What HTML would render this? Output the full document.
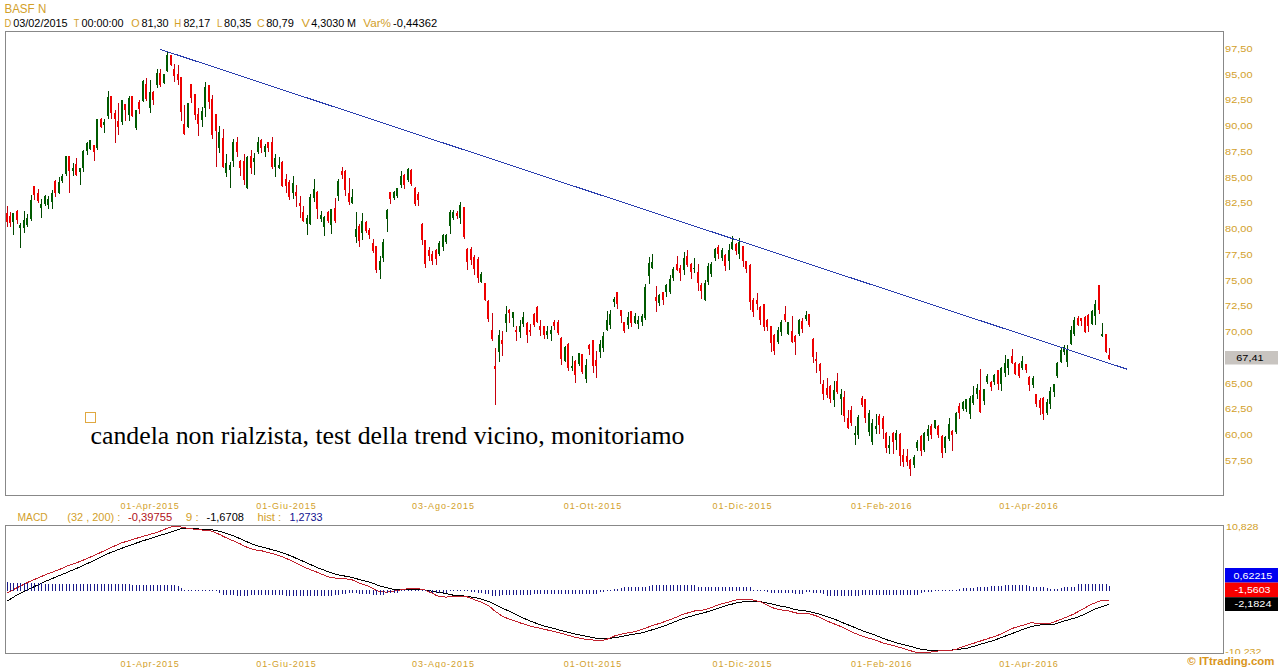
<!DOCTYPE html>
<html><head><meta charset="utf-8">
<style>
html,body{margin:0;padding:0;background:#fff;width:1278px;height:668px;overflow:hidden}
svg{display:block}
text{font-family:"Liberation Sans",Arial,sans-serif}
.hd{font-size:11px;fill:#000}
.g{fill:#d2a02a}
.ax{font-size:9.6px;fill:#d2a02a}
.dt{font-size:9px;fill:#d2a02a}
.mh{font-size:10px}
.ann{font-family:"Liberation Serif","Times New Roman",serif;font-size:25.8px;fill:#000}
</style></head>
<body>
<svg width="1278" height="668" viewBox="0 0 1278 668">
<text x="4.4" y="13" textLength="41.9" lengthAdjust="spacingAndGlyphs" class="hd g" style="font-size:12.4px">BASF N</text>
<text x="4.4" y="27" textLength="6.8" lengthAdjust="spacingAndGlyphs" class="hd g">D</text>
<text x="13.2" y="27" textLength="54.4" lengthAdjust="spacingAndGlyphs" class="hd">03/02/2015</text>
<text x="73.8" y="27" textLength="5.5" lengthAdjust="spacingAndGlyphs" class="hd g">T</text>
<text x="81.4" y="27" textLength="42.2" lengthAdjust="spacingAndGlyphs" class="hd">00:00:00</text>
<text x="131.3" y="27" textLength="8.4" lengthAdjust="spacingAndGlyphs" class="hd g">O</text>
<text x="141.4" y="27" textLength="27.3" lengthAdjust="spacingAndGlyphs" class="hd">81,30</text>
<text x="174.3" y="27" textLength="7.0" lengthAdjust="spacingAndGlyphs" class="hd g">H</text>
<text x="183.4" y="27" textLength="26.9" lengthAdjust="spacingAndGlyphs" class="hd">82,17</text>
<text x="217.0" y="27" textLength="5.4" lengthAdjust="spacingAndGlyphs" class="hd g">L</text>
<text x="224.1" y="27" textLength="27.3" lengthAdjust="spacingAndGlyphs" class="hd">80,35</text>
<text x="256.9" y="27" textLength="7.7" lengthAdjust="spacingAndGlyphs" class="hd g">C</text>
<text x="266.2" y="27" textLength="27.7" lengthAdjust="spacingAndGlyphs" class="hd">80,79</text>
<text x="301.5" y="27" textLength="8.5" lengthAdjust="spacingAndGlyphs" class="hd g">V</text>
<text x="311.2" y="27" textLength="44.9" lengthAdjust="spacingAndGlyphs" class="hd">4,3030 M</text>
<text x="363.2" y="27" textLength="27.8" lengthAdjust="spacingAndGlyphs" class="hd g">Var%</text>
<text x="393.0" y="27" textLength="44.1" lengthAdjust="spacingAndGlyphs" class="hd">-0,44362</text>
<rect x="5.5" y="31.5" width="1218" height="464" fill="none" stroke="#888" stroke-width="1"/>
<g shape-rendering="crispEdges">
<rect x="7" y="206" width="1" height="21" fill="#c8000c"/>
<rect x="6" y="213" width="2" height="9" fill="#ee0000"/>
<rect x="10" y="212" width="1" height="15" fill="#c8000c"/>
<rect x="9" y="216" width="2" height="7" fill="#ee0000"/>
<rect x="13" y="213" width="1" height="22" fill="#004800"/>
<rect x="12" y="213" width="2" height="9" fill="#005a00"/>
<rect x="17" y="210" width="1" height="14" fill="#c8000c"/>
<rect x="16" y="211" width="2" height="9" fill="#ee0000"/>
<rect x="20" y="223" width="1" height="25" fill="#004800"/>
<rect x="19" y="225" width="2" height="3" fill="#005a00"/>
<rect x="24" y="211" width="1" height="22" fill="#004800"/>
<rect x="23" y="220" width="2" height="8" fill="#005a00"/>
<rect x="27" y="214" width="1" height="13" fill="#004800"/>
<rect x="26" y="218" width="2" height="7" fill="#005a00"/>
<rect x="31" y="195" width="1" height="26" fill="#004800"/>
<rect x="30" y="200" width="2" height="19" fill="#005a00"/>
<rect x="34" y="186" width="1" height="14" fill="#c8000c"/>
<rect x="33" y="186" width="2" height="9" fill="#ee0000"/>
<rect x="38" y="189" width="1" height="14" fill="#c8000c"/>
<rect x="37" y="193" width="2" height="8" fill="#ee0000"/>
<rect x="41" y="199" width="1" height="19" fill="#004800"/>
<rect x="40" y="204" width="2" height="4" fill="#005a00"/>
<rect x="45" y="195" width="1" height="11" fill="#004800"/>
<rect x="44" y="196" width="2" height="8" fill="#005a00"/>
<rect x="48" y="196" width="1" height="13" fill="#004800"/>
<rect x="47" y="199" width="2" height="6" fill="#005a00"/>
<rect x="52" y="190" width="1" height="19" fill="#004800"/>
<rect x="51" y="193" width="2" height="9" fill="#005a00"/>
<rect x="55" y="180" width="1" height="17" fill="#c8000c"/>
<rect x="54" y="181" width="2" height="12" fill="#ee0000"/>
<rect x="59" y="177" width="1" height="17" fill="#004800"/>
<rect x="58" y="182" width="2" height="11" fill="#005a00"/>
<rect x="62" y="174" width="1" height="9" fill="#004800"/>
<rect x="61" y="176" width="2" height="5" fill="#005a00"/>
<rect x="66" y="156" width="1" height="20" fill="#004800"/>
<rect x="65" y="156" width="2" height="18" fill="#005a00"/>
<rect x="69" y="156" width="1" height="37" fill="#c8000c"/>
<rect x="68" y="156" width="2" height="15" fill="#ee0000"/>
<rect x="73" y="163" width="1" height="13" fill="#004800"/>
<rect x="72" y="168" width="2" height="3" fill="#005a00"/>
<rect x="76" y="158" width="1" height="18" fill="#c8000c"/>
<rect x="75" y="164" width="2" height="11" fill="#ee0000"/>
<rect x="80" y="168" width="1" height="17" fill="#004800"/>
<rect x="79" y="168" width="2" height="4" fill="#005a00"/>
<rect x="83" y="150" width="1" height="22" fill="#004800"/>
<rect x="82" y="151" width="2" height="17" fill="#005a00"/>
<rect x="87" y="142" width="1" height="13" fill="#004800"/>
<rect x="86" y="143" width="2" height="8" fill="#005a00"/>
<rect x="90" y="140" width="1" height="10" fill="#004800"/>
<rect x="89" y="140" width="2" height="9" fill="#005a00"/>
<rect x="94" y="145" width="1" height="16" fill="#c8000c"/>
<rect x="93" y="145" width="2" height="7" fill="#ee0000"/>
<rect x="97" y="119" width="1" height="31" fill="#004800"/>
<rect x="96" y="119" width="2" height="29" fill="#005a00"/>
<rect x="101" y="118" width="1" height="10" fill="#c8000c"/>
<rect x="100" y="119" width="2" height="8" fill="#ee0000"/>
<rect x="104" y="119" width="1" height="14" fill="#004800"/>
<rect x="103" y="122" width="2" height="3" fill="#005a00"/>
<rect x="108" y="91" width="1" height="28" fill="#004800"/>
<rect x="107" y="97" width="2" height="19" fill="#005a00"/>
<rect x="111" y="96" width="1" height="23" fill="#c8000c"/>
<rect x="110" y="96" width="2" height="17" fill="#ee0000"/>
<rect x="115" y="110" width="1" height="33" fill="#c8000c"/>
<rect x="114" y="113" width="2" height="6" fill="#ee0000"/>
<rect x="118" y="103" width="1" height="32" fill="#c8000c"/>
<rect x="117" y="121" width="2" height="6" fill="#ee0000"/>
<rect x="122" y="100" width="1" height="25" fill="#004800"/>
<rect x="121" y="100" width="2" height="22" fill="#005a00"/>
<rect x="125" y="104" width="1" height="17" fill="#c8000c"/>
<rect x="124" y="104" width="2" height="6" fill="#ee0000"/>
<rect x="129" y="96" width="1" height="25" fill="#004800"/>
<rect x="128" y="98" width="2" height="17" fill="#005a00"/>
<rect x="132" y="96" width="1" height="21" fill="#c8000c"/>
<rect x="131" y="96" width="2" height="20" fill="#ee0000"/>
<rect x="136" y="110" width="1" height="20" fill="#004800"/>
<rect x="135" y="110" width="2" height="18" fill="#005a00"/>
<rect x="139" y="100" width="1" height="14" fill="#c8000c"/>
<rect x="138" y="102" width="2" height="7" fill="#ee0000"/>
<rect x="143" y="80" width="1" height="22" fill="#004800"/>
<rect x="142" y="81" width="2" height="20" fill="#005a00"/>
<rect x="146" y="78" width="1" height="23" fill="#c8000c"/>
<rect x="145" y="84" width="2" height="15" fill="#ee0000"/>
<rect x="150" y="80" width="1" height="33" fill="#004800"/>
<rect x="149" y="92" width="2" height="16" fill="#005a00"/>
<rect x="153" y="91" width="1" height="14" fill="#c8000c"/>
<rect x="152" y="92" width="2" height="8" fill="#ee0000"/>
<rect x="157" y="69" width="1" height="19" fill="#004800"/>
<rect x="156" y="73" width="2" height="12" fill="#005a00"/>
<rect x="160" y="69" width="1" height="18" fill="#c8000c"/>
<rect x="159" y="73" width="2" height="12" fill="#ee0000"/>
<rect x="164" y="74" width="1" height="10" fill="#004800"/>
<rect x="163" y="74" width="2" height="9" fill="#005a00"/>
<rect x="167" y="52" width="1" height="20" fill="#004800"/>
<rect x="166" y="55" width="2" height="16" fill="#005a00"/>
<rect x="171" y="55" width="1" height="11" fill="#c8000c"/>
<rect x="170" y="55" width="2" height="10" fill="#ee0000"/>
<rect x="174" y="64" width="1" height="18" fill="#c8000c"/>
<rect x="173" y="69" width="2" height="7" fill="#ee0000"/>
<rect x="178" y="65" width="1" height="20" fill="#c8000c"/>
<rect x="177" y="74" width="2" height="6" fill="#ee0000"/>
<rect x="181" y="77" width="1" height="44" fill="#c8000c"/>
<rect x="180" y="77" width="2" height="35" fill="#ee0000"/>
<rect x="184" y="105" width="1" height="30" fill="#c8000c"/>
<rect x="183" y="124" width="2" height="10" fill="#ee0000"/>
<rect x="188" y="103" width="1" height="25" fill="#004800"/>
<rect x="187" y="103" width="2" height="24" fill="#005a00"/>
<rect x="191" y="84" width="1" height="19" fill="#c8000c"/>
<rect x="190" y="84" width="2" height="14" fill="#ee0000"/>
<rect x="195" y="94" width="1" height="26" fill="#c8000c"/>
<rect x="194" y="94" width="2" height="21" fill="#ee0000"/>
<rect x="198" y="108" width="1" height="28" fill="#c8000c"/>
<rect x="197" y="114" width="2" height="10" fill="#ee0000"/>
<rect x="202" y="107" width="1" height="20" fill="#004800"/>
<rect x="201" y="111" width="2" height="9" fill="#005a00"/>
<rect x="205" y="82" width="1" height="35" fill="#004800"/>
<rect x="204" y="87" width="2" height="21" fill="#005a00"/>
<rect x="209" y="85" width="1" height="24" fill="#c8000c"/>
<rect x="208" y="85" width="2" height="17" fill="#ee0000"/>
<rect x="212" y="95" width="1" height="44" fill="#c8000c"/>
<rect x="211" y="99" width="2" height="36" fill="#ee0000"/>
<rect x="216" y="114" width="1" height="53" fill="#c8000c"/>
<rect x="215" y="114" width="2" height="17" fill="#ee0000"/>
<rect x="219" y="126" width="1" height="27" fill="#004800"/>
<rect x="218" y="132" width="2" height="16" fill="#005a00"/>
<rect x="223" y="129" width="1" height="39" fill="#c8000c"/>
<rect x="222" y="138" width="2" height="29" fill="#ee0000"/>
<rect x="226" y="154" width="1" height="23" fill="#004800"/>
<rect x="225" y="163" width="2" height="10" fill="#005a00"/>
<rect x="230" y="162" width="1" height="26" fill="#004800"/>
<rect x="229" y="165" width="2" height="5" fill="#005a00"/>
<rect x="233" y="139" width="1" height="28" fill="#004800"/>
<rect x="232" y="142" width="2" height="19" fill="#005a00"/>
<rect x="237" y="137" width="1" height="20" fill="#c8000c"/>
<rect x="236" y="142" width="2" height="10" fill="#ee0000"/>
<rect x="240" y="160" width="1" height="16" fill="#c8000c"/>
<rect x="239" y="161" width="2" height="7" fill="#ee0000"/>
<rect x="244" y="154" width="1" height="31" fill="#c8000c"/>
<rect x="243" y="161" width="2" height="19" fill="#ee0000"/>
<rect x="247" y="156" width="1" height="33" fill="#004800"/>
<rect x="246" y="157" width="2" height="31" fill="#005a00"/>
<rect x="251" y="150" width="1" height="24" fill="#c8000c"/>
<rect x="250" y="156" width="2" height="12" fill="#ee0000"/>
<rect x="254" y="153" width="1" height="22" fill="#004800"/>
<rect x="253" y="158" width="2" height="4" fill="#005a00"/>
<rect x="258" y="137" width="1" height="17" fill="#004800"/>
<rect x="257" y="142" width="2" height="10" fill="#005a00"/>
<rect x="261" y="139" width="1" height="14" fill="#c8000c"/>
<rect x="260" y="140" width="2" height="8" fill="#ee0000"/>
<rect x="265" y="144" width="1" height="13" fill="#004800"/>
<rect x="264" y="146" width="2" height="6" fill="#005a00"/>
<rect x="268" y="142" width="1" height="10" fill="#c8000c"/>
<rect x="267" y="142" width="2" height="6" fill="#ee0000"/>
<rect x="272" y="137" width="1" height="32" fill="#c8000c"/>
<rect x="271" y="142" width="2" height="25" fill="#ee0000"/>
<rect x="275" y="154" width="1" height="23" fill="#004800"/>
<rect x="274" y="158" width="2" height="9" fill="#005a00"/>
<rect x="279" y="157" width="1" height="12" fill="#004800"/>
<rect x="278" y="165" width="2" height="3" fill="#005a00"/>
<rect x="282" y="161" width="1" height="26" fill="#c8000c"/>
<rect x="281" y="162" width="2" height="24" fill="#ee0000"/>
<rect x="286" y="174" width="1" height="19" fill="#c8000c"/>
<rect x="285" y="179" width="2" height="7" fill="#ee0000"/>
<rect x="289" y="180" width="1" height="20" fill="#c8000c"/>
<rect x="288" y="182" width="2" height="15" fill="#ee0000"/>
<rect x="293" y="176" width="1" height="23" fill="#004800"/>
<rect x="292" y="183" width="2" height="10" fill="#005a00"/>
<rect x="296" y="185" width="1" height="22" fill="#c8000c"/>
<rect x="295" y="192" width="2" height="4" fill="#ee0000"/>
<rect x="300" y="196" width="1" height="22" fill="#c8000c"/>
<rect x="299" y="203" width="2" height="3" fill="#ee0000"/>
<rect x="303" y="206" width="1" height="16" fill="#c8000c"/>
<rect x="302" y="212" width="2" height="9" fill="#ee0000"/>
<rect x="307" y="215" width="1" height="20" fill="#004800"/>
<rect x="306" y="218" width="2" height="6" fill="#005a00"/>
<rect x="310" y="194" width="1" height="31" fill="#004800"/>
<rect x="309" y="197" width="2" height="27" fill="#005a00"/>
<rect x="314" y="179" width="1" height="23" fill="#004800"/>
<rect x="313" y="189" width="2" height="9" fill="#005a00"/>
<rect x="317" y="191" width="1" height="28" fill="#c8000c"/>
<rect x="316" y="192" width="2" height="17" fill="#ee0000"/>
<rect x="321" y="211" width="1" height="11" fill="#004800"/>
<rect x="320" y="215" width="2" height="4" fill="#005a00"/>
<rect x="324" y="216" width="1" height="20" fill="#004800"/>
<rect x="323" y="217" width="2" height="10" fill="#005a00"/>
<rect x="328" y="211" width="1" height="12" fill="#c8000c"/>
<rect x="327" y="212" width="2" height="9" fill="#ee0000"/>
<rect x="331" y="209" width="1" height="25" fill="#004800"/>
<rect x="330" y="209" width="2" height="16" fill="#005a00"/>
<rect x="335" y="198" width="1" height="25" fill="#c8000c"/>
<rect x="334" y="208" width="2" height="13" fill="#ee0000"/>
<rect x="338" y="179" width="1" height="22" fill="#004800"/>
<rect x="337" y="181" width="2" height="15" fill="#005a00"/>
<rect x="342" y="167" width="1" height="12" fill="#c8000c"/>
<rect x="341" y="171" width="2" height="4" fill="#ee0000"/>
<rect x="345" y="170" width="1" height="26" fill="#c8000c"/>
<rect x="344" y="171" width="2" height="19" fill="#ee0000"/>
<rect x="349" y="178" width="1" height="27" fill="#c8000c"/>
<rect x="348" y="193" width="2" height="9" fill="#ee0000"/>
<rect x="352" y="189" width="1" height="15" fill="#004800"/>
<rect x="351" y="197" width="2" height="6" fill="#005a00"/>
<rect x="356" y="212" width="1" height="31" fill="#004800"/>
<rect x="355" y="229" width="2" height="8" fill="#005a00"/>
<rect x="359" y="224" width="1" height="23" fill="#c8000c"/>
<rect x="358" y="226" width="2" height="15" fill="#ee0000"/>
<rect x="362" y="213" width="1" height="27" fill="#004800"/>
<rect x="361" y="221" width="2" height="12" fill="#005a00"/>
<rect x="366" y="221" width="1" height="12" fill="#c8000c"/>
<rect x="365" y="222" width="2" height="9" fill="#ee0000"/>
<rect x="369" y="228" width="1" height="11" fill="#c8000c"/>
<rect x="368" y="230" width="2" height="5" fill="#ee0000"/>
<rect x="373" y="239" width="1" height="14" fill="#c8000c"/>
<rect x="372" y="243" width="2" height="8" fill="#ee0000"/>
<rect x="376" y="246" width="1" height="27" fill="#c8000c"/>
<rect x="375" y="246" width="2" height="24" fill="#ee0000"/>
<rect x="380" y="256" width="1" height="23" fill="#004800"/>
<rect x="379" y="261" width="2" height="9" fill="#005a00"/>
<rect x="383" y="239" width="1" height="23" fill="#004800"/>
<rect x="382" y="242" width="2" height="16" fill="#005a00"/>
<rect x="387" y="209" width="1" height="23" fill="#004800"/>
<rect x="386" y="210" width="2" height="9" fill="#005a00"/>
<rect x="390" y="192" width="1" height="12" fill="#c8000c"/>
<rect x="389" y="192" width="2" height="7" fill="#ee0000"/>
<rect x="394" y="191" width="1" height="9" fill="#004800"/>
<rect x="393" y="192" width="2" height="6" fill="#005a00"/>
<rect x="397" y="188" width="1" height="10" fill="#004800"/>
<rect x="396" y="188" width="2" height="8" fill="#005a00"/>
<rect x="401" y="171" width="1" height="17" fill="#004800"/>
<rect x="400" y="176" width="2" height="9" fill="#005a00"/>
<rect x="404" y="174" width="1" height="15" fill="#c8000c"/>
<rect x="403" y="175" width="2" height="10" fill="#ee0000"/>
<rect x="408" y="168" width="1" height="14" fill="#004800"/>
<rect x="407" y="169" width="2" height="11" fill="#005a00"/>
<rect x="411" y="169" width="1" height="17" fill="#c8000c"/>
<rect x="410" y="170" width="2" height="14" fill="#ee0000"/>
<rect x="415" y="187" width="1" height="19" fill="#c8000c"/>
<rect x="414" y="188" width="2" height="16" fill="#ee0000"/>
<rect x="418" y="192" width="1" height="14" fill="#c8000c"/>
<rect x="417" y="194" width="2" height="6" fill="#ee0000"/>
<rect x="422" y="223" width="1" height="22" fill="#c8000c"/>
<rect x="421" y="224" width="2" height="16" fill="#ee0000"/>
<rect x="425" y="240" width="1" height="28" fill="#c8000c"/>
<rect x="424" y="240" width="2" height="24" fill="#ee0000"/>
<rect x="429" y="247" width="1" height="14" fill="#c8000c"/>
<rect x="428" y="250" width="2" height="6" fill="#ee0000"/>
<rect x="432" y="251" width="1" height="14" fill="#c8000c"/>
<rect x="431" y="254" width="2" height="7" fill="#ee0000"/>
<rect x="436" y="249" width="1" height="16" fill="#c8000c"/>
<rect x="435" y="250" width="2" height="9" fill="#ee0000"/>
<rect x="439" y="241" width="1" height="15" fill="#004800"/>
<rect x="438" y="243" width="2" height="11" fill="#005a00"/>
<rect x="443" y="234" width="1" height="17" fill="#004800"/>
<rect x="442" y="235" width="2" height="12" fill="#005a00"/>
<rect x="446" y="234" width="1" height="10" fill="#004800"/>
<rect x="445" y="235" width="2" height="7" fill="#005a00"/>
<rect x="450" y="210" width="1" height="24" fill="#004800"/>
<rect x="449" y="212" width="2" height="14" fill="#005a00"/>
<rect x="453" y="210" width="1" height="10" fill="#004800"/>
<rect x="452" y="212" width="2" height="6" fill="#005a00"/>
<rect x="457" y="211" width="1" height="8" fill="#c8000c"/>
<rect x="456" y="213" width="2" height="3" fill="#ee0000"/>
<rect x="460" y="202" width="1" height="22" fill="#004800"/>
<rect x="459" y="205" width="2" height="13" fill="#005a00"/>
<rect x="464" y="207" width="1" height="32" fill="#c8000c"/>
<rect x="463" y="207" width="2" height="30" fill="#ee0000"/>
<rect x="467" y="248" width="1" height="22" fill="#c8000c"/>
<rect x="466" y="249" width="2" height="13" fill="#ee0000"/>
<rect x="471" y="247" width="1" height="18" fill="#c8000c"/>
<rect x="470" y="249" width="2" height="11" fill="#ee0000"/>
<rect x="474" y="255" width="1" height="20" fill="#c8000c"/>
<rect x="473" y="257" width="2" height="12" fill="#ee0000"/>
<rect x="478" y="257" width="1" height="26" fill="#c8000c"/>
<rect x="477" y="259" width="2" height="19" fill="#ee0000"/>
<rect x="481" y="272" width="1" height="11" fill="#004800"/>
<rect x="480" y="274" width="2" height="8" fill="#005a00"/>
<rect x="485" y="283" width="1" height="18" fill="#c8000c"/>
<rect x="484" y="283" width="2" height="17" fill="#ee0000"/>
<rect x="488" y="300" width="1" height="22" fill="#c8000c"/>
<rect x="487" y="301" width="2" height="18" fill="#ee0000"/>
<rect x="492" y="313" width="1" height="28" fill="#c8000c"/>
<rect x="491" y="330" width="2" height="9" fill="#ee0000"/>
<rect x="495" y="348" width="1" height="57" fill="#c8000c"/>
<rect x="494" y="366" width="2" height="3" fill="#ee0000"/>
<rect x="499" y="330" width="1" height="32" fill="#004800"/>
<rect x="498" y="335" width="2" height="17" fill="#005a00"/>
<rect x="502" y="331" width="1" height="25" fill="#c8000c"/>
<rect x="501" y="340" width="2" height="4" fill="#ee0000"/>
<rect x="506" y="306" width="1" height="26" fill="#004800"/>
<rect x="505" y="314" width="2" height="9" fill="#005a00"/>
<rect x="509" y="309" width="1" height="14" fill="#c8000c"/>
<rect x="508" y="310" width="2" height="3" fill="#ee0000"/>
<rect x="513" y="312" width="1" height="15" fill="#004800"/>
<rect x="512" y="312" width="2" height="6" fill="#005a00"/>
<rect x="516" y="326" width="1" height="15" fill="#c8000c"/>
<rect x="515" y="330" width="2" height="2" fill="#ee0000"/>
<rect x="520" y="320" width="1" height="18" fill="#004800"/>
<rect x="519" y="326" width="2" height="6" fill="#005a00"/>
<rect x="523" y="312" width="1" height="15" fill="#004800"/>
<rect x="522" y="317" width="2" height="7" fill="#005a00"/>
<rect x="527" y="322" width="1" height="21" fill="#c8000c"/>
<rect x="526" y="323" width="2" height="12" fill="#ee0000"/>
<rect x="530" y="324" width="1" height="12" fill="#c8000c"/>
<rect x="529" y="330" width="2" height="2" fill="#ee0000"/>
<rect x="534" y="313" width="1" height="14" fill="#c8000c"/>
<rect x="533" y="314" width="2" height="11" fill="#ee0000"/>
<rect x="537" y="306" width="1" height="17" fill="#c8000c"/>
<rect x="536" y="307" width="2" height="15" fill="#ee0000"/>
<rect x="540" y="320" width="1" height="16" fill="#c8000c"/>
<rect x="539" y="326" width="2" height="4" fill="#ee0000"/>
<rect x="544" y="326" width="1" height="13" fill="#c8000c"/>
<rect x="543" y="326" width="2" height="9" fill="#ee0000"/>
<rect x="547" y="326" width="1" height="13" fill="#004800"/>
<rect x="546" y="331" width="2" height="4" fill="#005a00"/>
<rect x="551" y="326" width="1" height="15" fill="#004800"/>
<rect x="550" y="330" width="2" height="4" fill="#005a00"/>
<rect x="554" y="320" width="1" height="10" fill="#c8000c"/>
<rect x="553" y="322" width="2" height="4" fill="#ee0000"/>
<rect x="558" y="320" width="1" height="15" fill="#c8000c"/>
<rect x="557" y="322" width="2" height="11" fill="#ee0000"/>
<rect x="561" y="337" width="1" height="28" fill="#c8000c"/>
<rect x="560" y="338" width="2" height="21" fill="#ee0000"/>
<rect x="565" y="346" width="1" height="16" fill="#004800"/>
<rect x="564" y="347" width="2" height="14" fill="#005a00"/>
<rect x="568" y="343" width="1" height="28" fill="#c8000c"/>
<rect x="567" y="344" width="2" height="24" fill="#ee0000"/>
<rect x="572" y="356" width="1" height="15" fill="#004800"/>
<rect x="571" y="366" width="2" height="2" fill="#005a00"/>
<rect x="575" y="360" width="1" height="23" fill="#c8000c"/>
<rect x="574" y="361" width="2" height="14" fill="#ee0000"/>
<rect x="579" y="353" width="1" height="13" fill="#004800"/>
<rect x="578" y="353" width="2" height="11" fill="#005a00"/>
<rect x="582" y="354" width="1" height="20" fill="#c8000c"/>
<rect x="581" y="354" width="2" height="18" fill="#ee0000"/>
<rect x="586" y="359" width="1" height="24" fill="#004800"/>
<rect x="585" y="365" width="2" height="14" fill="#005a00"/>
<rect x="589" y="344" width="1" height="11" fill="#c8000c"/>
<rect x="588" y="345" width="2" height="4" fill="#ee0000"/>
<rect x="593" y="340" width="1" height="33" fill="#c8000c"/>
<rect x="592" y="340" width="2" height="26" fill="#ee0000"/>
<rect x="596" y="351" width="1" height="27" fill="#c8000c"/>
<rect x="595" y="360" width="2" height="6" fill="#ee0000"/>
<rect x="600" y="340" width="1" height="18" fill="#004800"/>
<rect x="599" y="344" width="2" height="8" fill="#005a00"/>
<rect x="603" y="332" width="1" height="20" fill="#004800"/>
<rect x="602" y="336" width="2" height="12" fill="#005a00"/>
<rect x="607" y="311" width="1" height="20" fill="#004800"/>
<rect x="606" y="320" width="2" height="10" fill="#005a00"/>
<rect x="610" y="310" width="1" height="19" fill="#004800"/>
<rect x="609" y="314" width="2" height="11" fill="#005a00"/>
<rect x="614" y="297" width="1" height="10" fill="#004800"/>
<rect x="613" y="299" width="2" height="3" fill="#005a00"/>
<rect x="617" y="292" width="1" height="17" fill="#c8000c"/>
<rect x="616" y="292" width="2" height="12" fill="#ee0000"/>
<rect x="621" y="310" width="1" height="13" fill="#c8000c"/>
<rect x="620" y="310" width="2" height="6" fill="#ee0000"/>
<rect x="624" y="322" width="1" height="11" fill="#c8000c"/>
<rect x="623" y="322" width="2" height="9" fill="#ee0000"/>
<rect x="628" y="312" width="1" height="17" fill="#004800"/>
<rect x="627" y="317" width="2" height="8" fill="#005a00"/>
<rect x="631" y="311" width="1" height="16" fill="#c8000c"/>
<rect x="630" y="311" width="2" height="12" fill="#ee0000"/>
<rect x="635" y="313" width="1" height="11" fill="#004800"/>
<rect x="634" y="316" width="2" height="7" fill="#005a00"/>
<rect x="638" y="316" width="1" height="13" fill="#004800"/>
<rect x="637" y="320" width="2" height="4" fill="#005a00"/>
<rect x="642" y="314" width="1" height="12" fill="#004800"/>
<rect x="641" y="316" width="2" height="6" fill="#005a00"/>
<rect x="645" y="284" width="1" height="36" fill="#004800"/>
<rect x="644" y="287" width="2" height="31" fill="#005a00"/>
<rect x="649" y="257" width="1" height="27" fill="#004800"/>
<rect x="648" y="263" width="2" height="13" fill="#005a00"/>
<rect x="652" y="254" width="1" height="15" fill="#004800"/>
<rect x="651" y="262" width="2" height="6" fill="#005a00"/>
<rect x="656" y="286" width="1" height="26" fill="#c8000c"/>
<rect x="655" y="297" width="2" height="4" fill="#ee0000"/>
<rect x="659" y="294" width="1" height="12" fill="#004800"/>
<rect x="658" y="295" width="2" height="8" fill="#005a00"/>
<rect x="663" y="292" width="1" height="13" fill="#c8000c"/>
<rect x="662" y="292" width="2" height="8" fill="#ee0000"/>
<rect x="666" y="284" width="1" height="13" fill="#004800"/>
<rect x="665" y="285" width="2" height="7" fill="#005a00"/>
<rect x="670" y="275" width="1" height="19" fill="#004800"/>
<rect x="669" y="279" width="2" height="13" fill="#005a00"/>
<rect x="673" y="267" width="1" height="14" fill="#004800"/>
<rect x="672" y="269" width="2" height="9" fill="#005a00"/>
<rect x="677" y="256" width="1" height="15" fill="#c8000c"/>
<rect x="676" y="264" width="2" height="6" fill="#ee0000"/>
<rect x="680" y="265" width="1" height="16" fill="#c8000c"/>
<rect x="679" y="268" width="2" height="5" fill="#ee0000"/>
<rect x="684" y="252" width="1" height="23" fill="#004800"/>
<rect x="683" y="258" width="2" height="12" fill="#005a00"/>
<rect x="687" y="250" width="1" height="17" fill="#c8000c"/>
<rect x="686" y="256" width="2" height="9" fill="#ee0000"/>
<rect x="691" y="263" width="1" height="16" fill="#c8000c"/>
<rect x="690" y="264" width="2" height="8" fill="#ee0000"/>
<rect x="694" y="258" width="1" height="15" fill="#004800"/>
<rect x="693" y="268" width="2" height="1" fill="#005a00"/>
<rect x="698" y="264" width="1" height="27" fill="#c8000c"/>
<rect x="697" y="272" width="2" height="11" fill="#ee0000"/>
<rect x="701" y="283" width="1" height="16" fill="#c8000c"/>
<rect x="700" y="285" width="2" height="6" fill="#ee0000"/>
<rect x="705" y="280" width="1" height="21" fill="#004800"/>
<rect x="704" y="283" width="2" height="17" fill="#005a00"/>
<rect x="708" y="263" width="1" height="22" fill="#004800"/>
<rect x="707" y="266" width="2" height="16" fill="#005a00"/>
<rect x="711" y="262" width="1" height="15" fill="#004800"/>
<rect x="710" y="264" width="2" height="10" fill="#005a00"/>
<rect x="715" y="248" width="1" height="13" fill="#004800"/>
<rect x="714" y="249" width="2" height="9" fill="#005a00"/>
<rect x="718" y="245" width="1" height="14" fill="#c8000c"/>
<rect x="717" y="247" width="2" height="7" fill="#ee0000"/>
<rect x="722" y="248" width="1" height="13" fill="#004800"/>
<rect x="721" y="250" width="2" height="8" fill="#005a00"/>
<rect x="725" y="254" width="1" height="17" fill="#c8000c"/>
<rect x="724" y="255" width="2" height="11" fill="#ee0000"/>
<rect x="729" y="244" width="1" height="26" fill="#004800"/>
<rect x="728" y="250" width="2" height="11" fill="#005a00"/>
<rect x="732" y="236" width="1" height="14" fill="#004800"/>
<rect x="731" y="242" width="2" height="7" fill="#005a00"/>
<rect x="736" y="243" width="1" height="12" fill="#c8000c"/>
<rect x="735" y="244" width="2" height="7" fill="#ee0000"/>
<rect x="739" y="238" width="1" height="21" fill="#004800"/>
<rect x="738" y="242" width="2" height="12" fill="#005a00"/>
<rect x="743" y="246" width="1" height="21" fill="#c8000c"/>
<rect x="742" y="246" width="2" height="15" fill="#ee0000"/>
<rect x="746" y="261" width="1" height="12" fill="#c8000c"/>
<rect x="745" y="261" width="2" height="8" fill="#ee0000"/>
<rect x="750" y="264" width="1" height="46" fill="#c8000c"/>
<rect x="749" y="265" width="2" height="37" fill="#ee0000"/>
<rect x="753" y="298" width="1" height="19" fill="#c8000c"/>
<rect x="752" y="300" width="2" height="12" fill="#ee0000"/>
<rect x="757" y="293" width="1" height="17" fill="#c8000c"/>
<rect x="756" y="300" width="2" height="4" fill="#ee0000"/>
<rect x="760" y="306" width="1" height="19" fill="#c8000c"/>
<rect x="759" y="307" width="2" height="13" fill="#ee0000"/>
<rect x="764" y="304" width="1" height="27" fill="#c8000c"/>
<rect x="763" y="304" width="2" height="23" fill="#ee0000"/>
<rect x="767" y="319" width="1" height="12" fill="#c8000c"/>
<rect x="766" y="320" width="2" height="7" fill="#ee0000"/>
<rect x="771" y="326" width="1" height="26" fill="#c8000c"/>
<rect x="770" y="326" width="2" height="17" fill="#ee0000"/>
<rect x="774" y="334" width="1" height="21" fill="#c8000c"/>
<rect x="773" y="335" width="2" height="16" fill="#ee0000"/>
<rect x="778" y="327" width="1" height="17" fill="#004800"/>
<rect x="777" y="330" width="2" height="12" fill="#005a00"/>
<rect x="781" y="320" width="1" height="16" fill="#004800"/>
<rect x="780" y="322" width="2" height="10" fill="#005a00"/>
<rect x="785" y="306" width="1" height="16" fill="#c8000c"/>
<rect x="784" y="314" width="2" height="6" fill="#ee0000"/>
<rect x="788" y="322" width="1" height="13" fill="#004800"/>
<rect x="787" y="322" width="2" height="12" fill="#005a00"/>
<rect x="792" y="316" width="1" height="27" fill="#c8000c"/>
<rect x="791" y="331" width="2" height="11" fill="#ee0000"/>
<rect x="795" y="335" width="1" height="20" fill="#c8000c"/>
<rect x="794" y="336" width="2" height="6" fill="#ee0000"/>
<rect x="799" y="319" width="1" height="17" fill="#004800"/>
<rect x="798" y="320" width="2" height="14" fill="#005a00"/>
<rect x="802" y="318" width="1" height="15" fill="#c8000c"/>
<rect x="801" y="321" width="2" height="8" fill="#ee0000"/>
<rect x="806" y="311" width="1" height="10" fill="#004800"/>
<rect x="805" y="315" width="2" height="4" fill="#005a00"/>
<rect x="809" y="314" width="1" height="13" fill="#c8000c"/>
<rect x="808" y="314" width="2" height="11" fill="#ee0000"/>
<rect x="813" y="338" width="1" height="25" fill="#c8000c"/>
<rect x="812" y="339" width="2" height="18" fill="#ee0000"/>
<rect x="816" y="352" width="1" height="21" fill="#c8000c"/>
<rect x="815" y="359" width="2" height="2" fill="#ee0000"/>
<rect x="820" y="363" width="1" height="21" fill="#c8000c"/>
<rect x="819" y="364" width="2" height="7" fill="#ee0000"/>
<rect x="823" y="380" width="1" height="20" fill="#c8000c"/>
<rect x="822" y="384" width="2" height="10" fill="#ee0000"/>
<rect x="827" y="378" width="1" height="20" fill="#c8000c"/>
<rect x="826" y="388" width="2" height="7" fill="#ee0000"/>
<rect x="830" y="385" width="1" height="18" fill="#c8000c"/>
<rect x="829" y="386" width="2" height="13" fill="#ee0000"/>
<rect x="834" y="381" width="1" height="26" fill="#004800"/>
<rect x="833" y="390" width="2" height="10" fill="#005a00"/>
<rect x="837" y="373" width="1" height="21" fill="#c8000c"/>
<rect x="836" y="381" width="2" height="11" fill="#ee0000"/>
<rect x="841" y="389" width="1" height="26" fill="#004800"/>
<rect x="840" y="394" width="2" height="5" fill="#005a00"/>
<rect x="844" y="391" width="1" height="31" fill="#c8000c"/>
<rect x="843" y="397" width="2" height="19" fill="#ee0000"/>
<rect x="848" y="410" width="1" height="19" fill="#c8000c"/>
<rect x="847" y="418" width="2" height="10" fill="#ee0000"/>
<rect x="851" y="406" width="1" height="20" fill="#c8000c"/>
<rect x="850" y="410" width="2" height="13" fill="#ee0000"/>
<rect x="855" y="426" width="1" height="19" fill="#004800"/>
<rect x="854" y="433" width="2" height="2" fill="#005a00"/>
<rect x="858" y="415" width="1" height="24" fill="#004800"/>
<rect x="857" y="417" width="2" height="18" fill="#005a00"/>
<rect x="862" y="396" width="1" height="11" fill="#c8000c"/>
<rect x="861" y="398" width="2" height="7" fill="#ee0000"/>
<rect x="865" y="399" width="1" height="24" fill="#c8000c"/>
<rect x="864" y="399" width="2" height="19" fill="#ee0000"/>
<rect x="869" y="410" width="1" height="26" fill="#004800"/>
<rect x="868" y="413" width="2" height="19" fill="#005a00"/>
<rect x="872" y="419" width="1" height="26" fill="#004800"/>
<rect x="871" y="423" width="2" height="19" fill="#005a00"/>
<rect x="876" y="414" width="1" height="20" fill="#004800"/>
<rect x="875" y="426" width="2" height="3" fill="#005a00"/>
<rect x="879" y="414" width="1" height="20" fill="#c8000c"/>
<rect x="878" y="416" width="2" height="9" fill="#ee0000"/>
<rect x="883" y="416" width="1" height="23" fill="#c8000c"/>
<rect x="882" y="418" width="2" height="11" fill="#ee0000"/>
<rect x="886" y="432" width="1" height="21" fill="#c8000c"/>
<rect x="885" y="433" width="2" height="15" fill="#ee0000"/>
<rect x="889" y="436" width="1" height="18" fill="#004800"/>
<rect x="888" y="445" width="2" height="3" fill="#005a00"/>
<rect x="893" y="432" width="1" height="22" fill="#c8000c"/>
<rect x="892" y="433" width="2" height="9" fill="#ee0000"/>
<rect x="896" y="430" width="1" height="20" fill="#004800"/>
<rect x="895" y="433" width="2" height="7" fill="#005a00"/>
<rect x="900" y="433" width="1" height="33" fill="#c8000c"/>
<rect x="899" y="434" width="2" height="22" fill="#ee0000"/>
<rect x="903" y="449" width="1" height="18" fill="#c8000c"/>
<rect x="902" y="455" width="2" height="7" fill="#ee0000"/>
<rect x="907" y="449" width="1" height="17" fill="#c8000c"/>
<rect x="906" y="456" width="2" height="6" fill="#ee0000"/>
<rect x="910" y="459" width="1" height="17" fill="#c8000c"/>
<rect x="909" y="460" width="2" height="9" fill="#ee0000"/>
<rect x="914" y="455" width="1" height="13" fill="#004800"/>
<rect x="913" y="457" width="2" height="8" fill="#005a00"/>
<rect x="917" y="440" width="1" height="11" fill="#004800"/>
<rect x="916" y="442" width="2" height="6" fill="#005a00"/>
<rect x="921" y="435" width="1" height="21" fill="#c8000c"/>
<rect x="920" y="436" width="2" height="15" fill="#ee0000"/>
<rect x="924" y="432" width="1" height="20" fill="#004800"/>
<rect x="923" y="433" width="2" height="17" fill="#005a00"/>
<rect x="928" y="425" width="1" height="16" fill="#004800"/>
<rect x="927" y="429" width="2" height="7" fill="#005a00"/>
<rect x="931" y="424" width="1" height="15" fill="#c8000c"/>
<rect x="930" y="426" width="2" height="9" fill="#ee0000"/>
<rect x="935" y="420" width="1" height="9" fill="#004800"/>
<rect x="934" y="420" width="2" height="8" fill="#005a00"/>
<rect x="938" y="425" width="1" height="13" fill="#c8000c"/>
<rect x="937" y="426" width="2" height="9" fill="#ee0000"/>
<rect x="942" y="435" width="1" height="23" fill="#c8000c"/>
<rect x="941" y="436" width="2" height="17" fill="#ee0000"/>
<rect x="945" y="436" width="1" height="17" fill="#004800"/>
<rect x="944" y="437" width="2" height="11" fill="#005a00"/>
<rect x="949" y="418" width="1" height="23" fill="#004800"/>
<rect x="948" y="424" width="2" height="15" fill="#005a00"/>
<rect x="952" y="430" width="1" height="21" fill="#c8000c"/>
<rect x="951" y="431" width="2" height="4" fill="#ee0000"/>
<rect x="956" y="412" width="1" height="22" fill="#004800"/>
<rect x="955" y="413" width="2" height="19" fill="#005a00"/>
<rect x="959" y="403" width="1" height="16" fill="#c8000c"/>
<rect x="958" y="406" width="2" height="7" fill="#ee0000"/>
<rect x="963" y="401" width="1" height="10" fill="#004800"/>
<rect x="962" y="402" width="2" height="7" fill="#005a00"/>
<rect x="966" y="399" width="1" height="13" fill="#004800"/>
<rect x="965" y="399" width="2" height="10" fill="#005a00"/>
<rect x="970" y="396" width="1" height="23" fill="#004800"/>
<rect x="969" y="398" width="2" height="16" fill="#005a00"/>
<rect x="973" y="386" width="1" height="19" fill="#004800"/>
<rect x="972" y="395" width="2" height="8" fill="#005a00"/>
<rect x="977" y="384" width="1" height="15" fill="#004800"/>
<rect x="976" y="388" width="2" height="6" fill="#005a00"/>
<rect x="980" y="369" width="1" height="44" fill="#c8000c"/>
<rect x="979" y="390" width="2" height="22" fill="#ee0000"/>
<rect x="984" y="389" width="1" height="16" fill="#004800"/>
<rect x="983" y="389" width="2" height="12" fill="#005a00"/>
<rect x="987" y="374" width="1" height="10" fill="#004800"/>
<rect x="986" y="376" width="2" height="6" fill="#005a00"/>
<rect x="991" y="381" width="1" height="10" fill="#c8000c"/>
<rect x="990" y="382" width="2" height="5" fill="#ee0000"/>
<rect x="994" y="374" width="1" height="11" fill="#004800"/>
<rect x="993" y="375" width="2" height="7" fill="#005a00"/>
<rect x="998" y="370" width="1" height="20" fill="#c8000c"/>
<rect x="997" y="370" width="2" height="14" fill="#ee0000"/>
<rect x="1001" y="367" width="1" height="24" fill="#004800"/>
<rect x="1000" y="368" width="2" height="16" fill="#005a00"/>
<rect x="1005" y="355" width="1" height="22" fill="#004800"/>
<rect x="1004" y="363" width="2" height="10" fill="#005a00"/>
<rect x="1008" y="359" width="1" height="16" fill="#004800"/>
<rect x="1007" y="359" width="2" height="9" fill="#005a00"/>
<rect x="1012" y="349" width="1" height="15" fill="#c8000c"/>
<rect x="1011" y="356" width="2" height="7" fill="#ee0000"/>
<rect x="1015" y="362" width="1" height="13" fill="#c8000c"/>
<rect x="1014" y="363" width="2" height="11" fill="#ee0000"/>
<rect x="1019" y="363" width="1" height="15" fill="#c8000c"/>
<rect x="1018" y="364" width="2" height="12" fill="#ee0000"/>
<rect x="1022" y="356" width="1" height="14" fill="#004800"/>
<rect x="1021" y="361" width="2" height="7" fill="#005a00"/>
<rect x="1026" y="364" width="1" height="9" fill="#c8000c"/>
<rect x="1025" y="364" width="2" height="6" fill="#ee0000"/>
<rect x="1029" y="376" width="1" height="15" fill="#c8000c"/>
<rect x="1028" y="377" width="2" height="8" fill="#ee0000"/>
<rect x="1033" y="376" width="1" height="12" fill="#004800"/>
<rect x="1032" y="378" width="2" height="7" fill="#005a00"/>
<rect x="1036" y="394" width="1" height="13" fill="#c8000c"/>
<rect x="1035" y="394" width="2" height="10" fill="#ee0000"/>
<rect x="1040" y="398" width="1" height="17" fill="#c8000c"/>
<rect x="1039" y="400" width="2" height="8" fill="#ee0000"/>
<rect x="1043" y="397" width="1" height="23" fill="#c8000c"/>
<rect x="1042" y="398" width="2" height="16" fill="#ee0000"/>
<rect x="1047" y="399" width="1" height="16" fill="#004800"/>
<rect x="1046" y="402" width="2" height="11" fill="#005a00"/>
<rect x="1050" y="387" width="1" height="22" fill="#004800"/>
<rect x="1049" y="391" width="2" height="13" fill="#005a00"/>
<rect x="1054" y="384" width="1" height="13" fill="#004800"/>
<rect x="1053" y="384" width="2" height="8" fill="#005a00"/>
<rect x="1057" y="362" width="1" height="16" fill="#004800"/>
<rect x="1056" y="363" width="2" height="13" fill="#005a00"/>
<rect x="1061" y="348" width="1" height="15" fill="#004800"/>
<rect x="1060" y="350" width="2" height="12" fill="#005a00"/>
<rect x="1064" y="345" width="1" height="10" fill="#004800"/>
<rect x="1063" y="347" width="2" height="5" fill="#005a00"/>
<rect x="1067" y="345" width="1" height="22" fill="#004800"/>
<rect x="1066" y="349" width="2" height="13" fill="#005a00"/>
<rect x="1071" y="326" width="1" height="19" fill="#004800"/>
<rect x="1070" y="330" width="2" height="14" fill="#005a00"/>
<rect x="1074" y="317" width="1" height="19" fill="#004800"/>
<rect x="1073" y="320" width="2" height="14" fill="#005a00"/>
<rect x="1078" y="316" width="1" height="10" fill="#c8000c"/>
<rect x="1077" y="318" width="2" height="7" fill="#ee0000"/>
<rect x="1081" y="318" width="1" height="8" fill="#c8000c"/>
<rect x="1080" y="318" width="2" height="3" fill="#ee0000"/>
<rect x="1085" y="316" width="1" height="17" fill="#c8000c"/>
<rect x="1084" y="317" width="2" height="15" fill="#ee0000"/>
<rect x="1088" y="314" width="1" height="18" fill="#c8000c"/>
<rect x="1087" y="315" width="2" height="11" fill="#ee0000"/>
<rect x="1092" y="310" width="1" height="15" fill="#004800"/>
<rect x="1091" y="311" width="2" height="13" fill="#005a00"/>
<rect x="1095" y="300" width="1" height="25" fill="#004800"/>
<rect x="1094" y="304" width="2" height="12" fill="#005a00"/>
<rect x="1099" y="285" width="1" height="29" fill="#c8000c"/>
<rect x="1098" y="285" width="2" height="25" fill="#ee0000"/>
<rect x="1102" y="323" width="1" height="14" fill="#004800"/>
<rect x="1101" y="334" width="2" height="2" fill="#005a00"/>
<rect x="1106" y="334" width="1" height="19" fill="#c8000c"/>
<rect x="1105" y="334" width="2" height="18" fill="#ee0000"/>
<rect x="1109" y="348" width="1" height="12" fill="#c8000c"/>
<rect x="1108" y="355" width="2" height="4" fill="#ee0000"/>
</g>
<line x1="160.2" y1="49.3" x2="1127.4" y2="369.3" stroke="#2b3fae" stroke-width="1" shape-rendering="crispEdges"/>
<text x="1225.1" y="51.9" textLength="27.4" lengthAdjust="spacingAndGlyphs" class="ax">97,50</text>
<text x="1225.1" y="77.6" textLength="27.4" lengthAdjust="spacingAndGlyphs" class="ax">95,00</text>
<text x="1225.1" y="103.4" textLength="27.4" lengthAdjust="spacingAndGlyphs" class="ax">92,50</text>
<text x="1225.1" y="129.2" textLength="27.4" lengthAdjust="spacingAndGlyphs" class="ax">90,00</text>
<text x="1225.1" y="154.9" textLength="27.4" lengthAdjust="spacingAndGlyphs" class="ax">87,50</text>
<text x="1225.1" y="180.7" textLength="27.4" lengthAdjust="spacingAndGlyphs" class="ax">85,00</text>
<text x="1225.1" y="206.4" textLength="27.4" lengthAdjust="spacingAndGlyphs" class="ax">82,50</text>
<text x="1225.1" y="232.2" textLength="27.4" lengthAdjust="spacingAndGlyphs" class="ax">80,00</text>
<text x="1225.1" y="257.9" textLength="27.4" lengthAdjust="spacingAndGlyphs" class="ax">77,50</text>
<text x="1225.1" y="283.7" textLength="27.4" lengthAdjust="spacingAndGlyphs" class="ax">75,00</text>
<text x="1225.1" y="309.4" textLength="27.4" lengthAdjust="spacingAndGlyphs" class="ax">72,50</text>
<text x="1225.1" y="335.2" textLength="27.4" lengthAdjust="spacingAndGlyphs" class="ax">70,00</text>
<text x="1225.1" y="386.7" textLength="27.4" lengthAdjust="spacingAndGlyphs" class="ax">65,00</text>
<text x="1225.1" y="412.4" textLength="27.4" lengthAdjust="spacingAndGlyphs" class="ax">62,50</text>
<text x="1225.1" y="438.2" textLength="27.4" lengthAdjust="spacingAndGlyphs" class="ax">60,00</text>
<text x="1225.1" y="463.9" textLength="27.4" lengthAdjust="spacingAndGlyphs" class="ax">57,50</text>
<rect x="1225" y="351" width="53" height="13.5" fill="#c8c4c0"/>
<text x="1236.3" y="361.2" textLength="27.2" lengthAdjust="spacingAndGlyphs" class="ax" style="fill:#000">67,41</text>
<rect x="85.5" y="412.5" width="10" height="10" fill="none" stroke="#e0a840" stroke-width="1"/>
<text x="90.5" y="444" class="ann">candela non rialzista, test della trend vicino, monitoriamo</text>
<text x="120.5" y="509" textLength="58.2" lengthAdjust="spacing" class="dt">01-Apr-2015</text>
<text x="120.5" y="667" textLength="58.2" lengthAdjust="spacing" class="dt">01-Apr-2015</text>
<text x="256.2" y="509" textLength="59.5" lengthAdjust="spacing" class="dt">01-Giu-2015</text>
<text x="256.2" y="667" textLength="59.5" lengthAdjust="spacing" class="dt">01-Giu-2015</text>
<text x="412.0" y="509" textLength="62.1" lengthAdjust="spacing" class="dt">03-Ago-2015</text>
<text x="412.0" y="667" textLength="62.1" lengthAdjust="spacing" class="dt">03-Ago-2015</text>
<text x="563.8" y="509" textLength="57.4" lengthAdjust="spacing" class="dt">01-Ott-2015</text>
<text x="563.8" y="667" textLength="57.4" lengthAdjust="spacing" class="dt">01-Ott-2015</text>
<text x="712.5" y="509" textLength="58.9" lengthAdjust="spacing" class="dt">01-Dic-2015</text>
<text x="712.5" y="667" textLength="58.9" lengthAdjust="spacing" class="dt">01-Dic-2015</text>
<text x="851.1" y="509" textLength="60.5" lengthAdjust="spacing" class="dt">01-Feb-2016</text>
<text x="851.1" y="667" textLength="60.5" lengthAdjust="spacing" class="dt">01-Feb-2016</text>
<text x="999.2" y="509" textLength="58.6" lengthAdjust="spacing" class="dt">01-Apr-2016</text>
<text x="999.2" y="667" textLength="58.6" lengthAdjust="spacing" class="dt">01-Apr-2016</text>
<text x="17.5" y="521" textLength="30.2" lengthAdjust="spacingAndGlyphs" class="mh g">MACD</text>
<text x="67.3" y="521" textLength="52.9" lengthAdjust="spacingAndGlyphs" class="mh g">(32 , 200) :</text>
<text x="128.0" y="521" textLength="44.1" lengthAdjust="spacingAndGlyphs" class="mh" style="fill:#b01020">-0,39755</text>
<text x="185.7" y="521" textLength="13.0" lengthAdjust="spacingAndGlyphs" class="mh g">9 :</text>
<text x="206.5" y="521" textLength="37.4" lengthAdjust="spacingAndGlyphs" class="mh" style="fill:#000">-1,6708</text>
<text x="257.5" y="521" textLength="23.7" lengthAdjust="spacingAndGlyphs" class="mh g">hist :</text>
<text x="289.5" y="521" textLength="33.0" lengthAdjust="spacingAndGlyphs" class="mh" style="fill:#101090">1,2733</text>
<rect x="5.5" y="525.5" width="1218" height="128" fill="none" stroke="#888" stroke-width="1"/>
<g shape-rendering="crispEdges" fill="none" stroke-width="1">
<polyline points="6.6,601.3 10.1,599.2 13.5,597.1 17.0,595.0 20.5,593.3 24.0,591.5 27.5,589.8 31.0,588.1 34.5,586.5 38.0,584.9 41.5,583.2 45.0,581.6 48.4,580.1 51.9,578.7 55.4,577.2 58.9,575.7 62.4,574.3 65.9,572.9 69.4,571.4 72.9,570.0 76.4,568.5 79.9,567.0 83.3,565.4 86.8,563.8 90.3,562.2 93.8,560.5 97.3,558.8 100.8,557.1 104.3,555.3 107.8,553.7 111.3,552.3 114.8,551.0 118.2,549.7 121.7,548.3 125.2,547.0 128.7,545.7 132.2,544.5 135.7,543.3 139.2,542.1 142.7,540.9 146.2,539.8 149.7,538.7 153.1,537.6 156.6,536.4 160.1,535.4 163.6,534.3 167.1,533.3 170.6,532.2 174.1,531.0 177.6,529.8 181.1,528.8 184.6,528.8 188.1,528.8 191.5,528.8 195.0,528.9 198.5,529.0 202.0,529.1 205.5,529.3 209.0,529.4 212.5,529.9 216.0,530.5 219.5,531.3 223.0,532.4 226.4,533.4 229.9,534.5 233.4,535.9 236.9,537.4 240.4,538.8 243.9,540.4 247.4,542.0 250.9,543.5 254.4,544.7 257.9,545.9 261.3,546.9 264.8,547.8 268.3,548.7 271.8,549.6 275.3,550.6 278.8,551.5 282.3,552.6 285.8,553.9 289.3,555.3 292.8,556.7 296.2,558.3 299.7,559.8 303.2,561.3 306.7,562.8 310.2,564.4 313.7,566.0 317.2,567.6 320.7,568.9 324.2,570.2 327.7,571.5 331.1,572.7 334.6,573.8 338.1,574.9 341.6,575.5 345.1,576.1 348.6,576.6 352.1,577.4 355.6,578.4 359.1,579.5 362.6,580.4 366.0,581.3 369.5,582.2 373.0,583.4 376.5,584.7 380.0,585.9 383.5,586.9 387.0,587.8 390.5,588.8 394.0,589.3 397.5,589.8 400.9,590.0 404.4,589.5 407.9,589.3 411.4,589.4 414.9,589.5 418.4,589.5 421.9,589.6 425.4,590.0 428.9,590.6 432.4,591.2 435.8,591.8 439.3,592.4 442.8,593.0 446.3,593.6 449.8,594.4 453.3,595.2 456.8,595.5 460.3,595.8 463.8,596.0 467.3,596.3 470.7,596.9 474.2,597.5 477.7,598.1 481.2,599.2 484.7,600.2 488.2,601.3 491.7,602.9 495.2,604.7 498.7,606.4 502.2,608.0 505.6,609.6 509.1,611.2 512.6,612.9 516.1,614.6 519.6,616.3 523.1,617.9 526.6,619.5 530.1,621.0 533.6,622.3 537.1,623.6 540.5,624.9 544.0,626.0 547.5,626.9 551.0,627.8 554.5,628.7 558.0,629.7 561.5,630.6 565.0,631.5 568.5,632.4 572.0,633.3 575.4,634.1 578.9,634.8 582.4,635.5 585.9,636.1 589.4,636.8 592.9,637.5 596.4,638.2 599.9,638.4 603.4,638.5 606.9,638.6 610.3,638.3 613.8,637.8 617.3,637.4 620.8,636.7 624.3,635.9 627.8,635.2 631.3,634.5 634.8,634.0 638.3,633.4 641.8,632.8 645.3,631.8 648.7,630.8 652.2,629.8 655.7,628.8 659.2,627.7 662.7,626.5 666.2,625.2 669.7,623.8 673.2,622.4 676.7,621.0 680.2,619.6 683.6,618.3 687.1,617.3 690.6,616.3 694.1,615.3 697.6,614.4 701.1,613.5 704.6,612.6 708.1,611.5 711.6,610.5 715.1,609.4 718.5,608.2 722.0,607.0 725.5,605.7 729.0,604.8 732.5,604.0 736.0,603.1 739.5,602.3 743.0,601.8 746.5,601.5 750.0,601.2 753.4,601.1 756.9,601.3 760.4,601.7 763.9,602.4 767.4,603.1 770.9,603.8 774.4,604.7 777.9,605.5 781.4,606.4 784.9,606.7 788.3,607.4 791.8,608.5 795.3,609.6 798.8,610.2 802.3,610.6 805.8,611.0 809.3,611.5 812.8,612.4 816.3,613.3 819.8,614.3 823.2,615.3 826.7,616.5 830.2,617.6 833.7,618.9 837.2,620.3 840.7,621.8 844.2,623.3 847.7,624.7 851.2,626.1 854.7,627.5 858.1,628.9 861.6,630.3 865.1,631.7 868.6,632.9 872.1,634.1 875.6,635.3 879.1,636.7 882.6,638.1 886.1,639.5 889.6,640.7 893.0,641.7 896.5,642.8 900.0,643.7 903.5,644.6 907.0,645.5 910.5,646.4 914.0,647.4 917.5,648.4 921.0,649.4 924.5,649.7 927.9,650.1 931.4,650.5 934.9,650.6 938.4,650.8 941.9,651.0 945.4,650.7 948.9,650.4 952.4,650.0 955.9,649.6 959.4,649.2 962.8,648.8 966.3,648.4 969.8,647.5 973.3,646.4 976.8,645.4 980.3,644.3 983.8,643.3 987.3,642.3 990.8,641.3 994.3,640.2 997.7,638.9 1001.2,637.6 1004.7,636.3 1008.2,635.0 1011.7,633.7 1015.2,632.3 1018.7,631.0 1022.2,629.7 1025.7,628.5 1029.2,627.3 1032.6,626.2 1036.1,625.6 1039.6,625.0 1043.1,624.8 1046.6,624.8 1050.1,624.6 1053.6,624.4 1057.1,623.4 1060.6,622.2 1064.1,621.0 1067.6,620.0 1071.0,619.1 1074.5,618.2 1078.0,616.9 1081.5,615.6 1085.0,614.1 1088.5,612.4 1092.0,610.6 1095.5,608.9 1099.0,607.7 1102.5,606.5 1105.9,605.4 1109.4,604.3" stroke="#000"/>
<polyline points="6.6,593.4 10.1,591.5 13.5,589.6 17.0,587.7 20.5,586.0 24.0,584.2 27.5,582.5 31.0,580.9 34.5,579.4 38.0,577.9 41.5,576.4 45.0,574.9 48.4,573.6 51.9,572.3 55.4,571.0 58.9,569.7 62.4,568.2 65.9,566.6 69.4,565.2 72.9,564.0 76.4,562.8 79.9,561.5 83.3,560.1 86.8,558.6 90.3,557.1 93.8,555.6 97.3,554.0 100.8,552.4 104.3,550.7 107.8,549.1 111.3,547.5 114.8,545.9 118.2,544.3 121.7,542.8 125.2,541.8 128.7,540.8 132.2,539.7 135.7,538.6 139.2,537.5 142.7,536.3 146.2,535.4 149.7,534.5 153.1,533.5 156.6,532.6 160.1,531.2 163.6,529.8 167.1,528.3 170.6,527.1 174.1,526.6 177.6,526.3 181.1,527.1 184.6,527.8 188.1,528.3 191.5,528.8 195.0,529.3 198.5,529.7 202.0,530.0 205.5,530.2 209.0,530.4 212.5,531.5 216.0,532.9 219.5,534.4 223.0,536.2 226.4,537.9 229.9,539.5 233.4,540.9 236.9,542.4 240.4,543.9 243.9,546.0 247.4,547.4 250.9,548.6 254.4,549.7 257.9,550.3 261.3,550.7 264.8,551.6 268.3,552.5 271.8,553.4 275.3,554.5 278.8,555.6 282.3,556.7 285.8,558.2 289.3,559.8 292.8,561.3 296.2,563.1 299.7,564.8 303.2,566.6 306.7,568.3 310.2,569.6 313.7,570.9 317.2,572.3 320.7,573.8 324.2,575.2 327.7,576.7 331.1,577.4 334.6,578.0 338.1,578.5 341.6,578.7 345.1,578.9 348.6,579.1 352.1,579.8 355.6,581.4 359.1,583.0 362.6,584.2 366.0,585.4 369.5,586.6 373.0,588.6 376.5,590.6 380.0,591.4 383.5,591.9 387.0,592.2 390.5,591.6 394.0,591.1 397.5,590.5 400.9,589.9 404.4,589.2 407.9,588.8 411.4,588.8 414.9,588.8 418.4,588.8 421.9,589.3 425.4,590.1 428.9,591.7 432.4,593.3 435.8,595.2 439.3,596.3 442.8,596.8 446.3,597.2 449.8,596.5 453.3,596.2 456.8,596.2 460.3,596.2 463.8,596.2 467.3,596.9 470.7,598.2 474.2,599.6 477.7,600.8 481.2,602.1 484.7,603.8 488.2,605.5 491.7,608.3 495.2,611.3 498.7,613.7 502.2,616.2 505.6,617.7 509.1,618.9 512.6,620.2 516.1,621.4 519.6,622.7 523.1,623.8 526.6,624.9 530.1,626.0 533.6,626.9 537.1,627.6 540.5,628.4 544.0,629.2 547.5,630.0 551.0,630.8 554.5,631.6 558.0,632.5 561.5,633.4 565.0,634.3 568.5,635.4 572.0,636.4 575.4,637.3 578.9,638.0 582.4,638.7 585.9,639.4 589.4,639.7 592.9,640.0 596.4,640.3 599.9,640.2 603.4,640.1 606.9,639.3 610.3,637.7 613.8,636.2 617.3,635.2 620.8,634.3 624.3,633.4 627.8,632.8 631.3,632.3 634.8,631.8 638.3,630.6 641.8,629.4 645.3,628.2 648.7,626.9 652.2,625.7 655.7,624.6 659.2,623.5 662.7,622.3 666.2,621.0 669.7,619.8 673.2,618.5 676.7,617.0 680.2,615.5 683.6,614.1 687.1,613.1 690.6,612.1 694.1,611.1 697.6,610.3 701.1,610.1 704.6,609.9 708.1,608.7 711.6,607.4 715.1,606.1 718.5,604.8 722.0,603.7 725.5,602.8 729.0,601.9 732.5,600.9 736.0,600.0 739.5,599.6 743.0,599.5 746.5,599.4 750.0,599.3 753.4,600.0 756.9,600.9 760.4,601.9 763.9,603.5 767.4,605.1 770.9,606.8 774.4,608.4 777.9,609.2 781.4,609.9 784.9,610.3 788.3,610.9 791.8,611.8 795.3,612.8 798.8,613.4 802.3,613.5 805.8,613.6 809.3,613.7 812.8,614.8 816.3,615.9 819.8,617.3 823.2,619.0 826.7,620.7 830.2,622.3 833.7,623.7 837.2,625.1 840.7,626.5 844.2,628.3 847.7,630.0 851.2,631.8 854.7,633.2 858.1,634.5 861.6,635.9 865.1,637.0 868.6,638.1 872.1,639.1 875.6,640.3 879.1,641.5 882.6,642.8 886.1,643.8 889.6,644.7 893.0,645.5 896.5,646.5 900.0,647.5 903.5,648.6 907.0,649.6 910.5,650.7 914.0,651.8 917.5,652.6 921.0,652.5 924.5,652.4 927.9,652.3 931.4,652.0 934.9,651.4 938.4,650.9 941.9,650.8 945.4,650.6 948.9,650.4 952.4,650.2 955.9,649.3 959.4,648.0 962.8,646.8 966.3,645.6 969.8,644.5 973.3,643.4 976.8,642.2 980.3,641.1 983.8,639.9 987.3,638.8 990.8,637.6 994.3,636.5 997.7,635.3 1001.2,633.9 1004.7,632.1 1008.2,630.4 1011.7,628.6 1015.2,627.5 1018.7,626.5 1022.2,625.5 1025.7,624.5 1029.2,623.2 1032.6,622.6 1036.1,623.4 1039.6,623.3 1043.1,623.3 1046.6,623.2 1050.1,623.2 1053.6,622.3 1057.1,620.7 1060.6,619.4 1064.1,618.1 1067.6,616.8 1071.0,615.3 1074.5,613.6 1078.0,611.7 1081.5,609.8 1085.0,607.8 1088.5,605.9 1092.0,604.1 1095.5,602.7 1099.0,601.3 1102.5,600.3 1105.9,600.4 1109.4,600.5" stroke="#c0202c"/>
</g>
<g shape-rendering="crispEdges" fill="#1a1a8a">
<rect x="7" y="582" width="1" height="9"/>
<rect x="10" y="583" width="1" height="8"/>
<rect x="13" y="583" width="1" height="8"/>
<rect x="17" y="583" width="1" height="8"/>
<rect x="20" y="583" width="1" height="8"/>
<rect x="24" y="583" width="1" height="8"/>
<rect x="27" y="583" width="1" height="8"/>
<rect x="31" y="583" width="1" height="8"/>
<rect x="34" y="583" width="1" height="8"/>
<rect x="38" y="583" width="1" height="8"/>
<rect x="41" y="583" width="1" height="8"/>
<rect x="45" y="584" width="1" height="7"/>
<rect x="48" y="584" width="1" height="7"/>
<rect x="52" y="584" width="1" height="7"/>
<rect x="55" y="584" width="1" height="7"/>
<rect x="59" y="584" width="1" height="7"/>
<rect x="62" y="584" width="1" height="7"/>
<rect x="66" y="584" width="1" height="7"/>
<rect x="69" y="584" width="1" height="7"/>
<rect x="73" y="584" width="1" height="7"/>
<rect x="76" y="584" width="1" height="7"/>
<rect x="80" y="584" width="1" height="7"/>
<rect x="83" y="584" width="1" height="7"/>
<rect x="87" y="584" width="1" height="7"/>
<rect x="90" y="584" width="1" height="7"/>
<rect x="94" y="584" width="1" height="7"/>
<rect x="97" y="584" width="1" height="7"/>
<rect x="101" y="584" width="1" height="7"/>
<rect x="104" y="584" width="1" height="7"/>
<rect x="108" y="584" width="1" height="7"/>
<rect x="111" y="584" width="1" height="7"/>
<rect x="115" y="584" width="1" height="7"/>
<rect x="118" y="584" width="1" height="7"/>
<rect x="122" y="584" width="1" height="7"/>
<rect x="125" y="584" width="1" height="7"/>
<rect x="129" y="584" width="1" height="7"/>
<rect x="132" y="585" width="1" height="6"/>
<rect x="136" y="585" width="1" height="6"/>
<rect x="139" y="585" width="1" height="6"/>
<rect x="143" y="585" width="1" height="6"/>
<rect x="146" y="585" width="1" height="6"/>
<rect x="150" y="585" width="1" height="6"/>
<rect x="153" y="585" width="1" height="6"/>
<rect x="157" y="585" width="1" height="6"/>
<rect x="160" y="585" width="1" height="6"/>
<rect x="164" y="585" width="1" height="6"/>
<rect x="167" y="585" width="1" height="6"/>
<rect x="171" y="585" width="1" height="6"/>
<rect x="174" y="585" width="1" height="6"/>
<rect x="178" y="586" width="1" height="5"/>
<rect x="181" y="588" width="1" height="3"/>
<rect x="184" y="590" width="1" height="1"/>
<rect x="188" y="590" width="1" height="1"/>
<rect x="191" y="590" width="1" height="1"/>
<rect x="195" y="590" width="1" height="1"/>
<rect x="198" y="590" width="1" height="1"/>
<rect x="202" y="590" width="1" height="1"/>
<rect x="205" y="590" width="1" height="1"/>
<rect x="209" y="590" width="1" height="1"/>
<rect x="212" y="590" width="1" height="1"/>
<rect x="216" y="590" width="1" height="1"/>
<rect x="219" y="590" width="1" height="3"/>
<rect x="223" y="590" width="1" height="5"/>
<rect x="226" y="590" width="1" height="5"/>
<rect x="230" y="590" width="1" height="5"/>
<rect x="233" y="590" width="1" height="5"/>
<rect x="237" y="590" width="1" height="6"/>
<rect x="240" y="590" width="1" height="6"/>
<rect x="244" y="590" width="1" height="6"/>
<rect x="247" y="590" width="1" height="6"/>
<rect x="251" y="590" width="1" height="5"/>
<rect x="254" y="590" width="1" height="5"/>
<rect x="258" y="590" width="1" height="5"/>
<rect x="261" y="590" width="1" height="5"/>
<rect x="265" y="590" width="1" height="5"/>
<rect x="268" y="590" width="1" height="5"/>
<rect x="272" y="590" width="1" height="5"/>
<rect x="275" y="590" width="1" height="5"/>
<rect x="279" y="590" width="1" height="5"/>
<rect x="282" y="590" width="1" height="5"/>
<rect x="286" y="590" width="1" height="6"/>
<rect x="289" y="590" width="1" height="6"/>
<rect x="293" y="590" width="1" height="6"/>
<rect x="296" y="590" width="1" height="6"/>
<rect x="300" y="590" width="1" height="6"/>
<rect x="303" y="590" width="1" height="6"/>
<rect x="307" y="590" width="1" height="6"/>
<rect x="310" y="590" width="1" height="6"/>
<rect x="314" y="590" width="1" height="6"/>
<rect x="317" y="590" width="1" height="6"/>
<rect x="321" y="590" width="1" height="6"/>
<rect x="324" y="590" width="1" height="6"/>
<rect x="328" y="590" width="1" height="6"/>
<rect x="331" y="590" width="1" height="6"/>
<rect x="335" y="590" width="1" height="5"/>
<rect x="338" y="590" width="1" height="5"/>
<rect x="342" y="590" width="1" height="4"/>
<rect x="345" y="590" width="1" height="4"/>
<rect x="349" y="590" width="1" height="3"/>
<rect x="352" y="590" width="1" height="3"/>
<rect x="356" y="590" width="1" height="3"/>
<rect x="359" y="590" width="1" height="4"/>
<rect x="362" y="590" width="1" height="4"/>
<rect x="366" y="590" width="1" height="4"/>
<rect x="369" y="590" width="1" height="4"/>
<rect x="373" y="590" width="1" height="5"/>
<rect x="376" y="590" width="1" height="5"/>
<rect x="380" y="590" width="1" height="5"/>
<rect x="383" y="590" width="1" height="5"/>
<rect x="387" y="590" width="1" height="3"/>
<rect x="390" y="590" width="1" height="3"/>
<rect x="394" y="590" width="1" height="3"/>
<rect x="397" y="590" width="1" height="3"/>
<rect x="401" y="590" width="1" height="1"/>
<rect x="404" y="590" width="1" height="1"/>
<rect x="408" y="590" width="1" height="1"/>
<rect x="411" y="590" width="1" height="1"/>
<rect x="415" y="590" width="1" height="1"/>
<rect x="418" y="590" width="1" height="1"/>
<rect x="422" y="590" width="1" height="1"/>
<rect x="425" y="590" width="1" height="1"/>
<rect x="429" y="590" width="1" height="2"/>
<rect x="432" y="590" width="1" height="3"/>
<rect x="436" y="590" width="1" height="3"/>
<rect x="439" y="590" width="1" height="3"/>
<rect x="443" y="590" width="1" height="3"/>
<rect x="446" y="590" width="1" height="3"/>
<rect x="450" y="590" width="1" height="1"/>
<rect x="453" y="590" width="1" height="1"/>
<rect x="457" y="590" width="1" height="1"/>
<rect x="460" y="590" width="1" height="1"/>
<rect x="464" y="590" width="1" height="1"/>
<rect x="467" y="590" width="1" height="1"/>
<rect x="471" y="590" width="1" height="2"/>
<rect x="474" y="590" width="1" height="2"/>
<rect x="478" y="590" width="1" height="3"/>
<rect x="481" y="590" width="1" height="3"/>
<rect x="485" y="590" width="1" height="4"/>
<rect x="488" y="590" width="1" height="4"/>
<rect x="492" y="590" width="1" height="6"/>
<rect x="495" y="590" width="1" height="6"/>
<rect x="499" y="590" width="1" height="6"/>
<rect x="502" y="590" width="1" height="5"/>
<rect x="506" y="590" width="1" height="5"/>
<rect x="509" y="590" width="1" height="5"/>
<rect x="513" y="590" width="1" height="5"/>
<rect x="516" y="590" width="1" height="5"/>
<rect x="520" y="590" width="1" height="5"/>
<rect x="523" y="590" width="1" height="5"/>
<rect x="527" y="590" width="1" height="5"/>
<rect x="530" y="590" width="1" height="5"/>
<rect x="534" y="590" width="1" height="4"/>
<rect x="537" y="590" width="1" height="4"/>
<rect x="540" y="590" width="1" height="4"/>
<rect x="544" y="590" width="1" height="4"/>
<rect x="547" y="590" width="1" height="4"/>
<rect x="551" y="590" width="1" height="4"/>
<rect x="554" y="590" width="1" height="4"/>
<rect x="558" y="590" width="1" height="4"/>
<rect x="561" y="590" width="1" height="4"/>
<rect x="565" y="590" width="1" height="4"/>
<rect x="568" y="590" width="1" height="4"/>
<rect x="572" y="590" width="1" height="4"/>
<rect x="575" y="590" width="1" height="4"/>
<rect x="579" y="590" width="1" height="4"/>
<rect x="582" y="590" width="1" height="4"/>
<rect x="586" y="590" width="1" height="4"/>
<rect x="589" y="590" width="1" height="4"/>
<rect x="593" y="590" width="1" height="4"/>
<rect x="596" y="590" width="1" height="4"/>
<rect x="600" y="590" width="1" height="2"/>
<rect x="603" y="590" width="1" height="2"/>
<rect x="607" y="590" width="1" height="1"/>
<rect x="610" y="590" width="1" height="1"/>
<rect x="614" y="589" width="1" height="2"/>
<rect x="617" y="589" width="1" height="2"/>
<rect x="621" y="588" width="1" height="3"/>
<rect x="624" y="587" width="1" height="4"/>
<rect x="628" y="587" width="1" height="4"/>
<rect x="631" y="587" width="1" height="4"/>
<rect x="635" y="587" width="1" height="4"/>
<rect x="638" y="587" width="1" height="4"/>
<rect x="642" y="587" width="1" height="4"/>
<rect x="645" y="587" width="1" height="4"/>
<rect x="649" y="586" width="1" height="5"/>
<rect x="652" y="585" width="1" height="6"/>
<rect x="656" y="585" width="1" height="6"/>
<rect x="659" y="585" width="1" height="6"/>
<rect x="663" y="585" width="1" height="6"/>
<rect x="666" y="585" width="1" height="6"/>
<rect x="670" y="585" width="1" height="6"/>
<rect x="673" y="585" width="1" height="6"/>
<rect x="677" y="585" width="1" height="6"/>
<rect x="680" y="585" width="1" height="6"/>
<rect x="684" y="585" width="1" height="6"/>
<rect x="687" y="585" width="1" height="6"/>
<rect x="691" y="585" width="1" height="6"/>
<rect x="694" y="585" width="1" height="6"/>
<rect x="698" y="587" width="1" height="4"/>
<rect x="701" y="587" width="1" height="4"/>
<rect x="705" y="587" width="1" height="4"/>
<rect x="708" y="587" width="1" height="4"/>
<rect x="711" y="587" width="1" height="4"/>
<rect x="715" y="587" width="1" height="4"/>
<rect x="718" y="587" width="1" height="4"/>
<rect x="722" y="587" width="1" height="4"/>
<rect x="725" y="587" width="1" height="4"/>
<rect x="729" y="587" width="1" height="4"/>
<rect x="732" y="587" width="1" height="4"/>
<rect x="736" y="587" width="1" height="4"/>
<rect x="739" y="587" width="1" height="4"/>
<rect x="743" y="587" width="1" height="4"/>
<rect x="746" y="587" width="1" height="4"/>
<rect x="750" y="587" width="1" height="4"/>
<rect x="753" y="590" width="1" height="1"/>
<rect x="757" y="590" width="1" height="1"/>
<rect x="760" y="590" width="1" height="1"/>
<rect x="764" y="590" width="1" height="1"/>
<rect x="767" y="590" width="1" height="2"/>
<rect x="771" y="590" width="1" height="3"/>
<rect x="774" y="590" width="1" height="3"/>
<rect x="778" y="590" width="1" height="3"/>
<rect x="781" y="590" width="1" height="3"/>
<rect x="785" y="590" width="1" height="3"/>
<rect x="788" y="590" width="1" height="3"/>
<rect x="792" y="590" width="1" height="3"/>
<rect x="795" y="590" width="1" height="4"/>
<rect x="799" y="590" width="1" height="4"/>
<rect x="802" y="590" width="1" height="4"/>
<rect x="806" y="590" width="1" height="2"/>
<rect x="809" y="590" width="1" height="2"/>
<rect x="813" y="590" width="1" height="3"/>
<rect x="816" y="590" width="1" height="3"/>
<rect x="820" y="590" width="1" height="3"/>
<rect x="823" y="590" width="1" height="4"/>
<rect x="827" y="590" width="1" height="6"/>
<rect x="830" y="590" width="1" height="6"/>
<rect x="834" y="590" width="1" height="6"/>
<rect x="837" y="590" width="1" height="6"/>
<rect x="841" y="590" width="1" height="6"/>
<rect x="844" y="590" width="1" height="6"/>
<rect x="848" y="590" width="1" height="6"/>
<rect x="851" y="590" width="1" height="6"/>
<rect x="855" y="590" width="1" height="6"/>
<rect x="858" y="590" width="1" height="6"/>
<rect x="862" y="590" width="1" height="5"/>
<rect x="865" y="590" width="1" height="5"/>
<rect x="869" y="590" width="1" height="5"/>
<rect x="872" y="590" width="1" height="5"/>
<rect x="876" y="590" width="1" height="5"/>
<rect x="879" y="590" width="1" height="5"/>
<rect x="883" y="590" width="1" height="5"/>
<rect x="886" y="590" width="1" height="5"/>
<rect x="889" y="590" width="1" height="5"/>
<rect x="893" y="590" width="1" height="5"/>
<rect x="896" y="590" width="1" height="5"/>
<rect x="900" y="590" width="1" height="5"/>
<rect x="903" y="590" width="1" height="5"/>
<rect x="907" y="590" width="1" height="5"/>
<rect x="910" y="590" width="1" height="5"/>
<rect x="914" y="590" width="1" height="5"/>
<rect x="917" y="590" width="1" height="5"/>
<rect x="921" y="590" width="1" height="3"/>
<rect x="924" y="590" width="1" height="2"/>
<rect x="928" y="590" width="1" height="2"/>
<rect x="931" y="590" width="1" height="2"/>
<rect x="935" y="590" width="1" height="1"/>
<rect x="938" y="590" width="1" height="1"/>
<rect x="942" y="590" width="1" height="1"/>
<rect x="945" y="590" width="1" height="1"/>
<rect x="949" y="590" width="1" height="1"/>
<rect x="952" y="590" width="1" height="1"/>
<rect x="956" y="590" width="1" height="1"/>
<rect x="959" y="589" width="1" height="2"/>
<rect x="963" y="588" width="1" height="3"/>
<rect x="966" y="588" width="1" height="3"/>
<rect x="970" y="588" width="1" height="3"/>
<rect x="973" y="588" width="1" height="3"/>
<rect x="977" y="587" width="1" height="4"/>
<rect x="980" y="587" width="1" height="4"/>
<rect x="984" y="587" width="1" height="4"/>
<rect x="987" y="587" width="1" height="4"/>
<rect x="991" y="586" width="1" height="5"/>
<rect x="994" y="586" width="1" height="5"/>
<rect x="998" y="586" width="1" height="5"/>
<rect x="1001" y="586" width="1" height="5"/>
<rect x="1005" y="585" width="1" height="6"/>
<rect x="1008" y="585" width="1" height="6"/>
<rect x="1012" y="585" width="1" height="6"/>
<rect x="1015" y="585" width="1" height="6"/>
<rect x="1019" y="585" width="1" height="6"/>
<rect x="1022" y="585" width="1" height="6"/>
<rect x="1026" y="585" width="1" height="6"/>
<rect x="1029" y="586" width="1" height="5"/>
<rect x="1033" y="587" width="1" height="4"/>
<rect x="1036" y="587" width="1" height="4"/>
<rect x="1040" y="587" width="1" height="4"/>
<rect x="1043" y="587" width="1" height="4"/>
<rect x="1047" y="588" width="1" height="3"/>
<rect x="1050" y="589" width="1" height="2"/>
<rect x="1054" y="589" width="1" height="2"/>
<rect x="1057" y="589" width="1" height="2"/>
<rect x="1061" y="588" width="1" height="3"/>
<rect x="1064" y="587" width="1" height="4"/>
<rect x="1067" y="587" width="1" height="4"/>
<rect x="1071" y="587" width="1" height="4"/>
<rect x="1074" y="587" width="1" height="4"/>
<rect x="1078" y="584" width="1" height="7"/>
<rect x="1081" y="584" width="1" height="7"/>
<rect x="1085" y="584" width="1" height="7"/>
<rect x="1088" y="584" width="1" height="7"/>
<rect x="1092" y="584" width="1" height="7"/>
<rect x="1095" y="584" width="1" height="7"/>
<rect x="1099" y="584" width="1" height="7"/>
<rect x="1102" y="584" width="1" height="7"/>
<rect x="1106" y="584" width="1" height="7"/>
<rect x="1109" y="586" width="1" height="5"/>
</g>
<text x="1226.1" y="529.5" textLength="32.4" lengthAdjust="spacingAndGlyphs" class="ax">10,828</text>
<rect x="1225" y="568" width="53" height="14.6" fill="#0000f0"/>
<text x="1233.5" y="578.9" textLength="38.8" lengthAdjust="spacingAndGlyphs" class="ax" style="fill:#fff">0,62215</text>
<rect x="1225" y="582.6" width="53" height="14.6" fill="#f80000"/>
<text x="1234.5" y="593.1" textLength="36.0" lengthAdjust="spacingAndGlyphs" class="ax" style="fill:#fff">-1,5603</text>
<rect x="1225" y="597.2" width="53" height="13.8" fill="#000"/>
<text x="1234.5" y="607.3" textLength="37.0" lengthAdjust="spacingAndGlyphs" class="ax" style="fill:#fff">-2,1824</text>
<text x="1225.3" y="654.9" textLength="36.1" lengthAdjust="spacingAndGlyphs" class="ax">-10,232</text>
<rect x="1183" y="654" width="95" height="14" fill="#fff"/>
<text x="1187.3" y="665" textLength="87.2" lengthAdjust="spacingAndGlyphs" style="font-size:11.5px;font-weight:bold;fill:#d9961c">© ITtrading.com</text>
</svg>
</body></html>
